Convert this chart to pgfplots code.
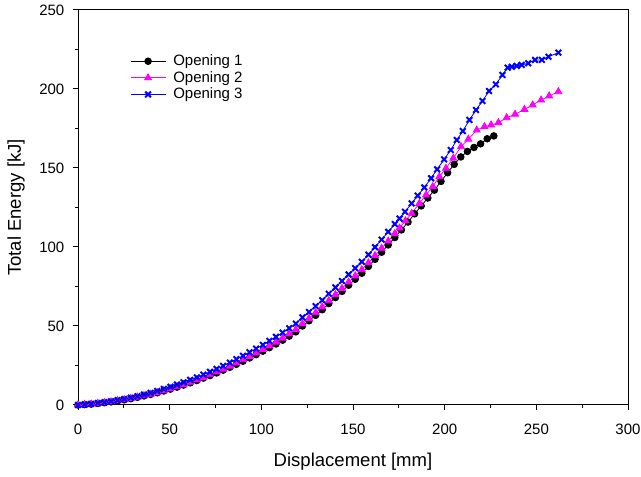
\documentclass[border=0pt]{standalone}
\usepackage{pgfplots}
\pgfplotsset{compat=1.18}
\usepackage{fontspec}
\setmainfont{Liberation Sans}
\definecolor{mag}{RGB}{255,0,255}
\definecolor{blu}{RGB}{0,0,255}
\newcommand{\fs}{\fontsize{11.25}{13}\selectfont}
\newcommand{\fl}{\fontsize{13.9}{16}\selectfont}
\begin{document}
\begin{tikzpicture}
\begin{axis}[
  scale only axis,
  width=412.5pt, height=296.25pt,
  xmin=0, xmax=300, ymin=0, ymax=250,
  xtick={0,50,...,300}, ytick={0,50,...,250},
  minor tick num=1,
  tick align=outside,
  xtick pos=left, ytick pos=left,
  major tick length=3.75pt, minor tick length=2.25pt,
  axis line style={line width=0.75pt},
  every tick/.style={black, line width=0.75pt},
  /pgf/number format/assume math mode=true,
  tick label style={font=\fs},
  xticklabel style={yshift=-7pt},
  yticklabel style={xshift=-3pt},
  label style={font=\fl},
  xlabel={Displacement [mm]},
  ylabel={Total Energy [kJ]},
  xlabel style={at={(axis description cs:0.5,-0.1443)}, anchor=center},
  ylabel style={at={(axis description cs:-0.1127,0.5)}, anchor=center},
  legend style={draw=none, fill=none, font=\fs, at={(rel axis cs:0.0945,0.894)}, anchor=north west, row sep=-1.2pt, inner sep=0pt,
    nodes={inner xsep=5.5pt}},
  legend cell align=left,
  legend image code/.code={\draw[mark repeat=2,mark phase=2,#1] plot coordinates {(0cm,0cm) (0.46cm,0cm) (0.92cm,0cm)};},
]
\coordinate (ll) at (rel axis cs:0,0);
\coordinate (ur) at (rel axis cs:1,1);
\addplot[black, line width=0.6pt, mark=*, mark size=2.5pt, mark options={solid, fill=black}] coordinates {
(0,0) (3.6,0.25) (7.2,0.58) (10.8,0.98) (14.4,1.44) (18.0,1.98) (21.6,2.59) (25.2,3.28) (28.8,4.03) (32.4,4.85)
(36.0,5.75) (39.6,6.72) (43.2,7.75) (46.8,8.86) (50.4,10.04) (54.0,11.30) (57.6,12.62) (61.2,14.01) (64.8,15.48) (68.4,17.02)
(72.0,18.63) (75.6,20.31) (79.2,22.06) (82.8,23.88) (86.4,25.77) (90.0,27.74) (93.6,29.77) (97.2,31.88) (100.8,34.06) (104.4,36.31)
(108.0,38.63) (111.6,41.02) (115.2,43.6) (118.8,46.3) (122.4,50.0) (126.0,53.3) (129.6,56.8) (133.2,60.3) (136.8,64.2) (140.4,68.0)
(144.0,71.9) (147.6,75.8) (151.2,79.6) (154.8,83.4) (158.4,87.7) (162.0,92.2) (165.6,96.7) (169.2,101.3) (172.8,106.0) (176.4,110.8)
(180.0,115.8) (183.6,121.0) (187.2,126.0) (190.8,131.0) (194.4,136.0) (198.0,141.5) (201.6,147.0) (205.2,152.3) (208.8,157.0) (212.4,160.5)
(216.0,163.0) (219.6,165.3) (223.2,168.5) (226.8,170.3)
};
\addlegendentry{Opening 1}
\addplot[mag, line width=0.6pt, mark=triangle*, mark size=3pt, mark options={solid, fill=mag}] coordinates {
(0,0) (3.6,0.26) (7.2,0.6) (10.8,1.01) (14.4,1.49) (18.0,2.05) (21.6,2.68) (25.2,3.38) (28.8,4.15) (32.4,4.99)
(36.0,5.9) (39.6,6.88) (43.2,7.93) (46.8,9.05) (50.4,10.25) (54.0,11.55) (57.6,12.9) (61.2,14.35) (64.8,15.85) (68.4,17.45)
(72.0,19.15) (75.6,20.9) (79.2,22.7) (82.8,24.6) (86.4,26.6) (90.0,28.65) (93.6,30.75) (97.2,32.85) (100.8,35.1) (104.4,37.4)
(108.0,39.8) (111.6,42.25) (115.2,44.9) (118.8,47.6) (122.4,51.4) (126.0,54.8) (129.6,58.4) (133.2,62.0) (136.8,66.0) (140.4,69.9)
(144.0,73.8) (147.6,77.8) (151.2,81.7) (154.8,85.6) (158.4,90.0) (162.0,94.6) (165.6,99.2) (169.2,103.8) (172.8,108.5) (175.4,112.0)
(178.6,116.6) (182.0,121.3) (186.2,127.6) (189.8,132.9) (193.5,138.2) (197.1,144.5) (200.7,149.8) (204.7,156.2) (208.9,163.5) (212.9,168.2)
(217.5,174.0) (221.7,176.2) (225.3,177.2) (229.3,178.7) (233.8,181.8) (238.4,184.0) (243.5,187.1) (248.0,189.9) (252.6,193.0) (257.0,195.6)
(262.0,198.3)
};
\addlegendentry{Opening 2}
\addplot[blu, line width=0.6pt, mark=x, mark size=3pt, mark options={solid, line width=1.5pt}] coordinates {
(0,0) (3.6,0.32) (7.2,0.72) (10.8,1.2) (14.4,1.73) (18.0,2.34) (21.6,3.02) (25.2,3.78) (28.8,4.61) (32.4,5.52)
(36.0,6.55) (39.6,7.62) (43.2,8.85) (46.8,10.16) (50.4,11.54) (54.0,12.9) (57.6,14.37) (61.2,15.91) (64.8,17.48) (68.4,19.22)
(72.0,20.98) (75.6,22.81) (79.2,24.76) (82.8,26.83) (86.4,28.97) (90.0,31.14) (93.6,33.37) (97.2,35.68) (100.8,38.06) (104.4,40.61)
(108.0,43.13) (111.6,45.82) (115.2,48.6) (118.8,51.5) (122.4,55.4) (126.0,58.9) (129.6,62.6) (133.2,66.3) (136.8,70.4) (140.4,74.4)
(144.0,78.5) (147.6,82.6) (151.2,86.6) (154.8,90.6) (158.4,95.1) (162.0,99.9) (165.6,104.7) (169.2,109.6) (172.8,114.5) (175.4,118.0)
(178.4,122.3) (182.0,127.6) (185.3,132.5) (188.9,137.7) (192.6,143.5) (195.9,149.2) (199.7,155.5) (203.3,161.4) (206.6,167.7) (209.9,173.4)
(213.5,180.4) (217.1,186.7) (220.6,192.4) (224.2,198.7) (227.9,202.9) (231.5,208.9) (234.4,213.5) (236.6,214.1) (239.3,214.6) (242.0,215.2)
(245.6,216.3) (249.3,218.4) (253.0,218.4) (256.6,220.4) (262.0,223.0)
};
\addlegendentry{Opening 3}
\end{axis}
\pgfresetboundingbox
\path[use as bounding box] ([shift={(-58.5pt,-54pt)}]ll) rectangle ([shift={(9.75pt,7.5pt)}]ur);
\end{tikzpicture}
\end{document}
